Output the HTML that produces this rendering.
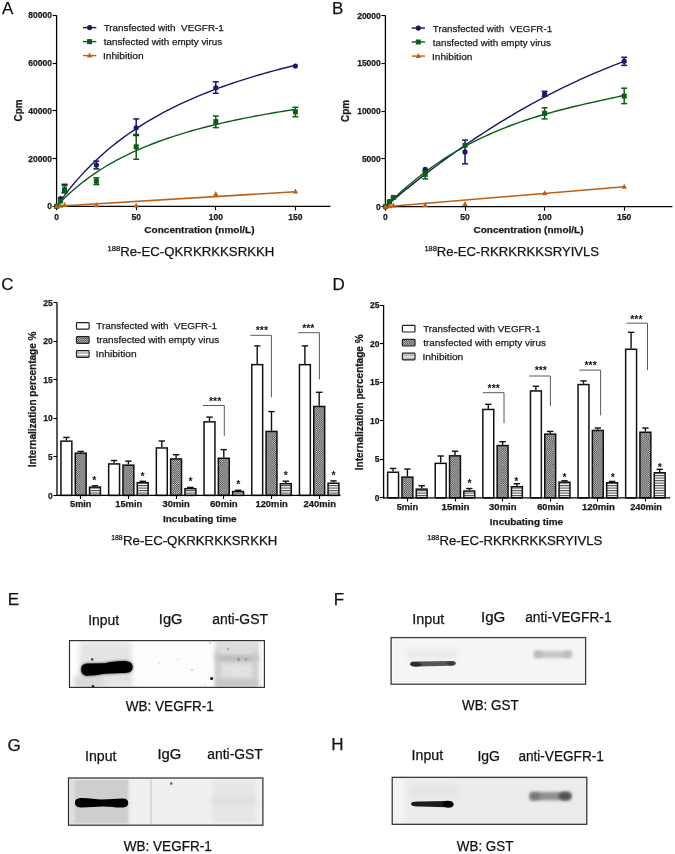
<!DOCTYPE html><html><head><meta charset="utf-8"><style>html,body{margin:0;padding:0;background:#fff;}svg{display:block;will-change:transform;}text{font-family:"Liberation Sans",sans-serif;white-space:pre;stroke:#1a1a1a;stroke-width:0.25px;}</style></head><body>
<svg width="675" height="854" viewBox="0 0 675 854">
<defs>
<pattern id="hatch" width="2.2" height="2.2" patternUnits="userSpaceOnUse"><rect width="2.2" height="2.2" fill="#dadada"/><rect width="1.1" height="1.1" fill="#343434"/><rect x="1.1" y="1.1" width="1.1" height="1.1" fill="#343434"/></pattern>
<pattern id="hatchL" width="2" height="2" patternUnits="userSpaceOnUse"><rect width="2" height="2" fill="#9a9a9a"/><rect width="1" height="1" fill="#3a3a3a"/><rect x="1" y="1" width="1" height="1" fill="#3a3a3a"/></pattern>
<pattern id="stripe" width="4" height="5" patternUnits="userSpaceOnUse"><rect width="4" height="5" fill="#f4f4f4"/><rect y="0" width="4" height="1.2" fill="#5a5a5a"/><rect y="2.5" width="4" height="1.2" fill="#707070"/></pattern>
<pattern id="stripeL" width="4" height="2" patternUnits="userSpaceOnUse"><rect width="4" height="2" fill="#fff"/><rect y="0" width="4" height="1" fill="#8a8a8a"/></pattern>
<clipPath id="cE"><rect x="69.5" y="640.6" width="194.9" height="46.8"/></clipPath>
<clipPath id="cF"><rect x="391.1" y="637.6" width="194.5" height="46.6"/></clipPath>
<clipPath id="cG"><rect x="68.5" y="778" width="194.4" height="47.2"/></clipPath>
<clipPath id="cH"><rect x="392.2" y="777.3" width="194.6" height="47"/></clipPath>
<filter id="b07" x="-50%" y="-50%" width="200%" height="200%"><feGaussianBlur stdDeviation="0.75"/></filter>
<filter id="b1" x="-50%" y="-50%" width="200%" height="200%"><feGaussianBlur stdDeviation="1"/></filter>
<filter id="b15" x="-50%" y="-50%" width="200%" height="200%"><feGaussianBlur stdDeviation="1.5"/></filter>
<filter id="b18" x="-50%" y="-50%" width="200%" height="200%"><feGaussianBlur stdDeviation="1.8"/></filter>
<filter id="b2" x="-50%" y="-50%" width="200%" height="200%"><feGaussianBlur stdDeviation="2"/></filter>
<filter id="b3" x="-50%" y="-50%" width="200%" height="200%"><feGaussianBlur stdDeviation="3"/></filter>
<filter id="b05" x="-50%" y="-50%" width="200%" height="200%"><feGaussianBlur stdDeviation="0.6"/></filter>
</defs>
<rect width="675" height="854" fill="#fff"/>
<line x1="56.6" y1="15.3" x2="56.6" y2="206.9" stroke="#000" stroke-width="1.3"/>
<line x1="56" y1="206.3" x2="330.4" y2="206.3" stroke="#000" stroke-width="1.3"/>
<line x1="52.6" y1="206.5" x2="56.6" y2="206.5" stroke="#000" stroke-width="1.1"/>
<text x="52" y="209.4" font-size="8.5" font-weight="bold" text-anchor="end" fill="#1a1a1a">0</text>
<line x1="52.6" y1="158.5" x2="56.6" y2="158.5" stroke="#000" stroke-width="1.1"/>
<text x="52" y="161.65" font-size="8.5" font-weight="bold" text-anchor="end" fill="#1a1a1a">20000</text>
<line x1="52.6" y1="110.5" x2="56.6" y2="110.5" stroke="#000" stroke-width="1.1"/>
<text x="52" y="113.9" font-size="8.5" font-weight="bold" text-anchor="end" fill="#1a1a1a">40000</text>
<line x1="52.6" y1="63.5" x2="56.6" y2="63.5" stroke="#000" stroke-width="1.1"/>
<text x="52" y="66.15" font-size="8.5" font-weight="bold" text-anchor="end" fill="#1a1a1a">60000</text>
<line x1="52.6" y1="15.5" x2="56.6" y2="15.5" stroke="#000" stroke-width="1.1"/>
<text x="52" y="18.4" font-size="8.5" font-weight="bold" text-anchor="end" fill="#1a1a1a">80000</text>
<line x1="56.5" y1="206.3" x2="56.5" y2="210.3" stroke="#000" stroke-width="1.1"/>
<text x="56.6" y="219.5" font-size="8.5" font-weight="bold" text-anchor="middle" fill="#1a1a1a">0</text>
<line x1="136.5" y1="206.3" x2="136.5" y2="210.3" stroke="#000" stroke-width="1.1"/>
<text x="136.2" y="219.5" font-size="8.5" font-weight="bold" text-anchor="middle" fill="#1a1a1a">50</text>
<line x1="215.5" y1="206.3" x2="215.5" y2="210.3" stroke="#000" stroke-width="1.1"/>
<text x="215.8" y="219.5" font-size="8.5" font-weight="bold" text-anchor="middle" fill="#1a1a1a">100</text>
<line x1="295.5" y1="206.3" x2="295.5" y2="210.3" stroke="#000" stroke-width="1.1"/>
<text x="295.4" y="219.5" font-size="8.5" font-weight="bold" text-anchor="middle" fill="#1a1a1a">150</text>
<text x="2.12" y="14.3" font-size="17" fill="#111">A</text>
<text x="0" y="0" font-size="10" font-weight="bold" fill="#1a1a1a" textLength="21.92" lengthAdjust="spacingAndGlyphs" transform="translate(21.6,121.4) rotate(-90)">Cpm</text>
<text x="144.39" y="233" font-size="9.9" font-weight="bold" fill="#1a1a1a" textLength="110.11" lengthAdjust="spacingAndGlyphs">Concentration (nmol/L)</text>
<text x="107.52" y="251" font-size="7.1" fill="#111" textLength="12.71" lengthAdjust="spacingAndGlyphs">188</text>
<text x="120.22" y="255.6" font-size="13" fill="#111" textLength="154.16" lengthAdjust="spacingAndGlyphs">Re-EC-QKRKRKKSRKKH</text>
<path d="M56.6,206.3 L60.58,200.67 L64.56,195.31 L68.54,190.18 L72.52,185.28 L76.5,180.59 L80.48,176.1 L84.46,171.8 L88.44,167.67 L92.42,163.71 L96.4,159.9 L100.38,156.23 L104.36,152.71 L108.34,149.31 L112.32,146.04 L116.3,142.88 L120.28,139.83 L124.26,136.89 L128.24,134.04 L132.22,131.3 L136.2,128.64 L140.18,126.06 L144.16,123.57 L148.14,121.15 L152.12,118.81 L156.1,116.54 L160.08,114.34 L164.06,112.2 L168.04,110.12 L172.02,108.1 L176,106.14 L179.98,104.24 L183.96,102.38 L187.94,100.58 L191.92,98.82 L195.9,97.11 L199.88,95.44 L203.86,93.82 L207.84,92.23 L211.82,90.69 L215.8,89.18 L219.78,87.71 L223.76,86.28 L227.74,84.88 L231.72,83.51 L235.7,82.18 L239.68,80.87 L243.66,79.6 L247.64,78.35 L251.62,77.13 L255.6,75.94 L259.58,74.77 L263.56,73.63 L267.54,72.51 L271.52,71.42 L275.5,70.35 L279.48,69.3 L283.46,68.27 L287.44,67.26 L291.42,66.28 L295.4,65.31" fill="none" stroke="#1e1762" stroke-width="1.4"/>
<path d="M56.6,206.3 L60.58,202.07 L64.56,198.06 L68.54,194.26 L72.52,190.65 L76.5,187.22 L80.48,183.96 L84.46,180.85 L88.44,177.89 L92.42,175.05 L96.4,172.35 L100.38,169.76 L104.36,167.28 L108.34,164.9 L112.32,162.62 L116.3,160.43 L120.28,158.32 L124.26,156.29 L128.24,154.34 L132.22,152.47 L136.2,150.66 L140.18,148.91 L144.16,147.22 L148.14,145.6 L152.12,144.02 L156.1,142.5 L160.08,141.03 L164.06,139.61 L168.04,138.23 L172.02,136.89 L176,135.6 L179.98,134.34 L183.96,133.12 L187.94,131.94 L191.92,130.79 L195.9,129.67 L199.88,128.59 L203.86,127.53 L207.84,126.51 L211.82,125.51 L215.8,124.54 L219.78,123.59 L223.76,122.67 L227.74,121.77 L231.72,120.89 L235.7,120.04 L239.68,119.2 L243.66,118.39 L247.64,117.6 L251.62,116.82 L255.6,116.06 L259.58,115.32 L263.56,114.6 L267.54,113.9 L271.52,113.21 L275.5,112.53 L279.48,111.87 L283.46,111.23 L287.44,110.59 L291.42,109.97 L295.4,109.37" fill="none" stroke="#0e5c17" stroke-width="1.4"/>
<path d="M56.6,206.3 L295.4,191.78" fill="none" stroke="#bb6016" stroke-width="1.6"/>
<circle cx="56.6" cy="206.3" r="2.6" fill="#1e1762"/>
<circle cx="60.58" cy="198.5" r="2.6" fill="#1e1762"/>
<line x1="64.56" y1="184.3" x2="64.56" y2="192.5" stroke="#1e1762" stroke-width="1.5"/>
<line x1="61.56" y1="184.3" x2="67.56" y2="184.3" stroke="#1e1762" stroke-width="1.5"/>
<line x1="61.56" y1="192.5" x2="67.56" y2="192.5" stroke="#1e1762" stroke-width="1.5"/>
<circle cx="64.56" cy="190.5" r="2.6" fill="#1e1762"/>
<line x1="96.4" y1="161.1" x2="96.4" y2="168.9" stroke="#1e1762" stroke-width="1.5"/>
<line x1="93.4" y1="161.1" x2="99.4" y2="161.1" stroke="#1e1762" stroke-width="1.5"/>
<line x1="93.4" y1="168.9" x2="99.4" y2="168.9" stroke="#1e1762" stroke-width="1.5"/>
<circle cx="96.4" cy="165.1" r="2.6" fill="#1e1762"/>
<line x1="136.2" y1="118.9" x2="136.2" y2="135.5" stroke="#1e1762" stroke-width="1.5"/>
<line x1="133.2" y1="118.9" x2="139.2" y2="118.9" stroke="#1e1762" stroke-width="1.5"/>
<line x1="133.2" y1="135.5" x2="139.2" y2="135.5" stroke="#1e1762" stroke-width="1.5"/>
<circle cx="136.2" cy="127.8" r="2.6" fill="#1e1762"/>
<line x1="215.8" y1="81.8" x2="215.8" y2="93.3" stroke="#1e1762" stroke-width="1.5"/>
<line x1="212.8" y1="81.8" x2="218.8" y2="81.8" stroke="#1e1762" stroke-width="1.5"/>
<line x1="212.8" y1="93.3" x2="218.8" y2="93.3" stroke="#1e1762" stroke-width="1.5"/>
<circle cx="215.8" cy="87.8" r="2.6" fill="#1e1762"/>
<circle cx="295.4" cy="66" r="2.6" fill="#1e1762"/>
<rect x="54.1" y="203.8" width="5" height="5" fill="#0e5c17"/>
<rect x="58.08" y="198.5" width="5" height="5" fill="#0e5c17"/>
<line x1="64.56" y1="185.6" x2="64.56" y2="192.8" stroke="#0e5c17" stroke-width="1.5"/>
<line x1="61.56" y1="185.6" x2="67.56" y2="185.6" stroke="#0e5c17" stroke-width="1.5"/>
<line x1="61.56" y1="192.8" x2="67.56" y2="192.8" stroke="#0e5c17" stroke-width="1.5"/>
<rect x="62.06" y="187.2" width="5" height="5" fill="#0e5c17"/>
<line x1="96.4" y1="177.8" x2="96.4" y2="184.6" stroke="#0e5c17" stroke-width="1.5"/>
<line x1="93.4" y1="177.8" x2="99.4" y2="177.8" stroke="#0e5c17" stroke-width="1.5"/>
<line x1="93.4" y1="184.6" x2="99.4" y2="184.6" stroke="#0e5c17" stroke-width="1.5"/>
<rect x="93.9" y="178.7" width="5" height="5" fill="#0e5c17"/>
<line x1="136.2" y1="134.4" x2="136.2" y2="159.3" stroke="#0e5c17" stroke-width="1.5"/>
<line x1="133.2" y1="134.4" x2="139.2" y2="134.4" stroke="#0e5c17" stroke-width="1.5"/>
<line x1="133.2" y1="159.3" x2="139.2" y2="159.3" stroke="#0e5c17" stroke-width="1.5"/>
<rect x="133.7" y="144.3" width="5" height="5" fill="#0e5c17"/>
<line x1="215.8" y1="116" x2="215.8" y2="127.6" stroke="#0e5c17" stroke-width="1.5"/>
<line x1="212.8" y1="116" x2="218.8" y2="116" stroke="#0e5c17" stroke-width="1.5"/>
<line x1="212.8" y1="127.6" x2="218.8" y2="127.6" stroke="#0e5c17" stroke-width="1.5"/>
<rect x="213.3" y="119.1" width="5" height="5" fill="#0e5c17"/>
<line x1="295.4" y1="107.3" x2="295.4" y2="116.7" stroke="#0e5c17" stroke-width="1.5"/>
<line x1="292.4" y1="107.3" x2="298.4" y2="107.3" stroke="#0e5c17" stroke-width="1.5"/>
<line x1="292.4" y1="116.7" x2="298.4" y2="116.7" stroke="#0e5c17" stroke-width="1.5"/>
<rect x="292.9" y="109.3" width="5" height="5" fill="#0e5c17"/>
<path d="M56.6,203.3 L59.3,208.3 L53.9,208.3 Z" fill="#bb6016"/>
<path d="M60.58,202.8 L63.28,207.8 L57.88,207.8 Z" fill="#bb6016"/>
<path d="M64.56,202 L67.26,207 L61.86,207 Z" fill="#bb6016"/>
<path d="M96.4,202.2 L99.1,207.2 L93.7,207.2 Z" fill="#bb6016"/>
<path d="M136.2,202.5 L138.9,207.5 L133.5,207.5 Z" fill="#bb6016"/>
<path d="M215.8,191 L218.5,196 L213.1,196 Z" fill="#bb6016"/>
<path d="M295.4,188.6 L298.1,193.6 L292.7,193.6 Z" fill="#bb6016"/>
<line x1="83" y1="27.6" x2="96.3" y2="27.6" stroke="#1e1762" stroke-width="1.4"/>
<circle cx="89.6" cy="27.6" r="2.6" fill="#1e1762"/>
<text x="103.68" y="31.1" font-size="9.9" fill="#1a1a1a" textLength="120.1" lengthAdjust="spacingAndGlyphs">Transfected with&#160; VEGFR-1</text>
<line x1="83" y1="41.6" x2="96.3" y2="41.6" stroke="#0e5c17" stroke-width="1.4"/>
<rect x="87.1" y="39.1" width="5" height="5" fill="#0e5c17"/>
<text x="103.75" y="45.1" font-size="9.9" fill="#1a1a1a" textLength="118.4" lengthAdjust="spacingAndGlyphs">tansfected with empty virus</text>
<line x1="83" y1="55.6" x2="96.3" y2="55.6" stroke="#bb6016" stroke-width="1.4"/>
<path d="M89.6,52.6 L92.3,57.6 L86.9,57.6 Z" fill="#bb6016"/>
<text x="102.96" y="59.1" font-size="9.9" fill="#1a1a1a" textLength="40.7" lengthAdjust="spacingAndGlyphs">Inhibition</text>
<line x1="385.4" y1="15.5" x2="385.4" y2="207.3" stroke="#000" stroke-width="1.3"/>
<line x1="384.8" y1="206.7" x2="672.4" y2="206.7" stroke="#000" stroke-width="1.3"/>
<line x1="381.4" y1="206.5" x2="385.4" y2="206.5" stroke="#000" stroke-width="1.1"/>
<text x="380.8" y="209.8" font-size="8.5" font-weight="bold" text-anchor="end" fill="#1a1a1a">0</text>
<line x1="381.4" y1="158.5" x2="385.4" y2="158.5" stroke="#000" stroke-width="1.1"/>
<text x="380.8" y="162" font-size="8.5" font-weight="bold" text-anchor="end" fill="#1a1a1a">5000</text>
<line x1="381.4" y1="111.5" x2="385.4" y2="111.5" stroke="#000" stroke-width="1.1"/>
<text x="380.8" y="114.2" font-size="8.5" font-weight="bold" text-anchor="end" fill="#1a1a1a">10000</text>
<line x1="381.4" y1="63.5" x2="385.4" y2="63.5" stroke="#000" stroke-width="1.1"/>
<text x="380.8" y="66.4" font-size="8.5" font-weight="bold" text-anchor="end" fill="#1a1a1a">15000</text>
<line x1="381.4" y1="15.5" x2="385.4" y2="15.5" stroke="#000" stroke-width="1.1"/>
<text x="380.8" y="18.6" font-size="8.5" font-weight="bold" text-anchor="end" fill="#1a1a1a">20000</text>
<line x1="385.5" y1="206.7" x2="385.5" y2="210.7" stroke="#000" stroke-width="1.1"/>
<text x="385.4" y="219.9" font-size="8.5" font-weight="bold" text-anchor="middle" fill="#1a1a1a">0</text>
<line x1="465.5" y1="206.7" x2="465.5" y2="210.7" stroke="#000" stroke-width="1.1"/>
<text x="465" y="219.9" font-size="8.5" font-weight="bold" text-anchor="middle" fill="#1a1a1a">50</text>
<line x1="544.5" y1="206.7" x2="544.5" y2="210.7" stroke="#000" stroke-width="1.1"/>
<text x="544.6" y="219.9" font-size="8.5" font-weight="bold" text-anchor="middle" fill="#1a1a1a">100</text>
<line x1="624.5" y1="206.7" x2="624.5" y2="210.7" stroke="#000" stroke-width="1.1"/>
<text x="624.2" y="219.9" font-size="8.5" font-weight="bold" text-anchor="middle" fill="#1a1a1a">150</text>
<text x="331.96" y="14.3" font-size="17" fill="#111">B</text>
<text x="0" y="0" font-size="10" font-weight="bold" fill="#1a1a1a" textLength="21.92" lengthAdjust="spacingAndGlyphs" transform="translate(349.2,121.9) rotate(-90)">Cpm</text>
<text x="473.49" y="233.3" font-size="9.9" font-weight="bold" fill="#1a1a1a" textLength="110.01" lengthAdjust="spacingAndGlyphs">Concentration (nmol/L)</text>
<text x="424.43" y="250.9" font-size="7.1" fill="#111" textLength="12.5" lengthAdjust="spacingAndGlyphs">188</text>
<text x="436.73" y="255.5" font-size="13" fill="#111" textLength="162.38" lengthAdjust="spacingAndGlyphs">Re-EC-RKRKRKKSRYIVLS</text>
<path d="M385.4,206.7 L389.38,203.3 L393.36,199.94 L397.34,196.62 L401.32,193.32 L405.3,190.07 L409.28,186.84 L413.26,183.65 L417.24,180.5 L421.22,177.38 L425.2,174.29 L429.18,171.24 L433.16,168.22 L437.14,165.23 L441.12,162.28 L445.1,159.36 L449.08,156.47 L453.06,153.62 L457.04,150.8 L461.02,148.01 L465,145.26 L468.98,142.54 L472.96,139.86 L476.94,137.2 L480.92,134.58 L484.9,131.99 L488.88,129.44 L492.86,126.91 L496.84,124.42 L500.82,121.96 L504.8,119.54 L508.78,117.14 L512.76,114.78 L516.74,112.45 L520.72,110.16 L524.7,107.89 L528.68,105.66 L532.66,103.45 L536.64,101.28 L540.62,99.15 L544.6,97.04 L548.58,94.96 L552.56,92.92 L556.54,90.91 L560.52,88.93 L564.5,86.97 L568.48,85.06 L572.46,83.17 L576.44,81.31 L580.42,79.48 L584.4,77.69 L588.38,75.92 L592.36,74.19 L596.34,72.48 L600.32,70.81 L604.3,69.17 L608.28,67.55 L612.26,65.97 L616.24,64.42 L620.22,62.9 L624.2,61.4" fill="none" stroke="#1e1762" stroke-width="1.4"/>
<path d="M385.4,206.7 L389.38,202.78 L393.36,198.96 L397.34,195.25 L401.32,191.64 L405.3,188.14 L409.28,184.73 L413.26,181.42 L417.24,178.2 L421.22,175.08 L425.2,172.05 L429.18,169.11 L433.16,166.26 L437.14,163.49 L441.12,160.81 L445.1,158.21 L449.08,155.69 L453.06,153.25 L457.04,150.89 L461.02,148.6 L465,146.38 L468.98,144.23 L472.96,142.15 L476.94,140.14 L480.92,138.2 L484.9,136.31 L488.88,134.49 L492.86,132.73 L496.84,131.02 L500.82,129.37 L504.8,127.78 L508.78,126.23 L512.76,124.74 L516.74,123.29 L520.72,121.89 L524.7,120.53 L528.68,119.22 L532.66,117.94 L536.64,116.71 L540.62,115.51 L544.6,114.34 L548.58,113.21 L552.56,112.11 L556.54,111.03 L560.52,109.99 L564.5,108.96 L568.48,107.97 L572.46,106.99 L576.44,106.03 L580.42,105.09 L584.4,104.16 L588.38,103.25 L592.36,102.35 L596.34,101.46 L600.32,100.58 L604.3,99.7 L608.28,98.83 L612.26,97.96 L616.24,97.09 L620.22,96.22 L624.2,95.34" fill="none" stroke="#0e5c17" stroke-width="1.4"/>
<path d="M385.4,206.7 L624.2,186.72" fill="none" stroke="#bb6016" stroke-width="1.6"/>
<circle cx="385.4" cy="206.7" r="2.6" fill="#1e1762"/>
<circle cx="389.38" cy="201.6" r="2.6" fill="#1e1762"/>
<circle cx="393.36" cy="197.5" r="2.6" fill="#1e1762"/>
<circle cx="425.2" cy="169.3" r="2.6" fill="#1e1762"/>
<line x1="465" y1="140.1" x2="465" y2="163.8" stroke="#1e1762" stroke-width="1.5"/>
<line x1="462" y1="140.1" x2="468" y2="140.1" stroke="#1e1762" stroke-width="1.5"/>
<line x1="462" y1="163.8" x2="468" y2="163.8" stroke="#1e1762" stroke-width="1.5"/>
<circle cx="465" cy="151.9" r="2.6" fill="#1e1762"/>
<line x1="544.6" y1="91.3" x2="544.6" y2="96.2" stroke="#1e1762" stroke-width="1.5"/>
<line x1="541.6" y1="91.3" x2="547.6" y2="91.3" stroke="#1e1762" stroke-width="1.5"/>
<line x1="541.6" y1="96.2" x2="547.6" y2="96.2" stroke="#1e1762" stroke-width="1.5"/>
<circle cx="544.6" cy="93.8" r="2.6" fill="#1e1762"/>
<line x1="624.2" y1="57.3" x2="624.2" y2="65.4" stroke="#1e1762" stroke-width="1.5"/>
<line x1="621.2" y1="57.3" x2="627.2" y2="57.3" stroke="#1e1762" stroke-width="1.5"/>
<line x1="621.2" y1="65.4" x2="627.2" y2="65.4" stroke="#1e1762" stroke-width="1.5"/>
<circle cx="624.2" cy="61.2" r="2.6" fill="#1e1762"/>
<rect x="382.9" y="204.2" width="5" height="5" fill="#0e5c17"/>
<rect x="386.88" y="199.5" width="5" height="5" fill="#0e5c17"/>
<rect x="390.86" y="194.9" width="5" height="5" fill="#0e5c17"/>
<line x1="425.2" y1="171.2" x2="425.2" y2="178.9" stroke="#0e5c17" stroke-width="1.5"/>
<line x1="422.2" y1="171.2" x2="428.2" y2="171.2" stroke="#0e5c17" stroke-width="1.5"/>
<line x1="422.2" y1="178.9" x2="428.2" y2="178.9" stroke="#0e5c17" stroke-width="1.5"/>
<rect x="422.7" y="171.9" width="5" height="5" fill="#0e5c17"/>
<rect x="462.5" y="142.8" width="5" height="5" fill="#0e5c17"/>
<line x1="544.6" y1="107.8" x2="544.6" y2="118.9" stroke="#0e5c17" stroke-width="1.5"/>
<line x1="541.6" y1="107.8" x2="547.6" y2="107.8" stroke="#0e5c17" stroke-width="1.5"/>
<line x1="541.6" y1="118.9" x2="547.6" y2="118.9" stroke="#0e5c17" stroke-width="1.5"/>
<rect x="542.1" y="110.8" width="5" height="5" fill="#0e5c17"/>
<line x1="624.2" y1="88.2" x2="624.2" y2="103.6" stroke="#0e5c17" stroke-width="1.5"/>
<line x1="621.2" y1="88.2" x2="627.2" y2="88.2" stroke="#0e5c17" stroke-width="1.5"/>
<line x1="621.2" y1="103.6" x2="627.2" y2="103.6" stroke="#0e5c17" stroke-width="1.5"/>
<rect x="621.7" y="93.6" width="5" height="5" fill="#0e5c17"/>
<path d="M385.4,203.7 L388.1,208.7 L382.7,208.7 Z" fill="#bb6016"/>
<path d="M389.38,203.2 L392.08,208.2 L386.68,208.2 Z" fill="#bb6016"/>
<path d="M393.36,202.5 L396.06,207.5 L390.66,207.5 Z" fill="#bb6016"/>
<path d="M425.2,202 L427.9,207 L422.5,207 Z" fill="#bb6016"/>
<path d="M465,201.1 L467.7,206.1 L462.3,206.1 Z" fill="#bb6016"/>
<path d="M544.6,190.2 L547.3,195.2 L541.9,195.2 Z" fill="#bb6016"/>
<path d="M624.2,183.7 L626.9,188.7 L621.5,188.7 Z" fill="#bb6016"/>
<line x1="411.7" y1="28.1" x2="425" y2="28.1" stroke="#1e1762" stroke-width="1.4"/>
<circle cx="418.3" cy="28.1" r="2.6" fill="#1e1762"/>
<text x="432.78" y="31.6" font-size="9.9" fill="#1a1a1a" textLength="119.4" lengthAdjust="spacingAndGlyphs">Transfected with&#160; VEGFR-1</text>
<line x1="411.7" y1="42" x2="425" y2="42" stroke="#0e5c17" stroke-width="1.4"/>
<rect x="415.8" y="39.5" width="5" height="5" fill="#0e5c17"/>
<text x="432.85" y="45.5" font-size="9.9" fill="#1a1a1a" textLength="118.1" lengthAdjust="spacingAndGlyphs">tansfected with empty virus</text>
<line x1="411.7" y1="56.1" x2="425" y2="56.1" stroke="#bb6016" stroke-width="1.4"/>
<path d="M418.3,53.1 L421,58.1 L415.6,58.1 Z" fill="#bb6016"/>
<text x="432.07" y="59.6" font-size="9.9" fill="#1a1a1a" textLength="40.28" lengthAdjust="spacingAndGlyphs">Inhibition</text>
<rect x="60.95" y="441.15" width="10.9" height="54.25" fill="#fff" stroke="#111" stroke-width="1.5"/>
<line x1="66.4" y1="437.4" x2="66.4" y2="440.4" stroke="#111" stroke-width="1.4"/>
<line x1="63.2" y1="437.4" x2="69.6" y2="437.4" stroke="#111" stroke-width="1.4"/>
<rect x="75.25" y="453.15" width="10.9" height="42.25" fill="url(#hatch)" stroke="#111" stroke-width="1.5"/>
<line x1="80.7" y1="451.4" x2="80.7" y2="452.4" stroke="#111" stroke-width="1.4"/>
<line x1="77.5" y1="451.4" x2="83.9" y2="451.4" stroke="#111" stroke-width="1.4"/>
<rect x="89.55" y="487.15" width="10.9" height="8.25" fill="url(#stripe)" stroke="#111" stroke-width="1.5"/>
<line x1="95" y1="485.8" x2="95" y2="486.4" stroke="#111" stroke-width="1.4"/>
<line x1="91.8" y1="485.8" x2="98.2" y2="485.8" stroke="#111" stroke-width="1.4"/>
<line x1="80.5" y1="495.4" x2="80.5" y2="499" stroke="#000" stroke-width="1.1"/>
<text x="70.12" y="507.3" font-size="9" font-weight="bold" fill="#1a1a1a" textLength="21.35" lengthAdjust="spacingAndGlyphs">5min</text>
<rect x="108.65" y="463.95" width="10.9" height="31.45" fill="#fff" stroke="#111" stroke-width="1.5"/>
<line x1="114.1" y1="460.5" x2="114.1" y2="463.2" stroke="#111" stroke-width="1.4"/>
<line x1="110.9" y1="460.5" x2="117.3" y2="460.5" stroke="#111" stroke-width="1.4"/>
<rect x="122.95" y="465.15" width="10.9" height="30.25" fill="url(#hatch)" stroke="#111" stroke-width="1.5"/>
<line x1="128.4" y1="461.2" x2="128.4" y2="464.4" stroke="#111" stroke-width="1.4"/>
<line x1="125.2" y1="461.2" x2="131.6" y2="461.2" stroke="#111" stroke-width="1.4"/>
<rect x="137.25" y="482.65" width="10.9" height="12.75" fill="url(#stripe)" stroke="#111" stroke-width="1.5"/>
<line x1="142.7" y1="481.3" x2="142.7" y2="481.9" stroke="#111" stroke-width="1.4"/>
<line x1="139.5" y1="481.3" x2="145.9" y2="481.3" stroke="#111" stroke-width="1.4"/>
<line x1="128.5" y1="495.4" x2="128.5" y2="499" stroke="#000" stroke-width="1.1"/>
<text x="115.21" y="507.3" font-size="9" font-weight="bold" fill="#1a1a1a" textLength="26.97" lengthAdjust="spacingAndGlyphs">15min</text>
<rect x="156.35" y="447.95" width="10.9" height="47.45" fill="#fff" stroke="#111" stroke-width="1.5"/>
<line x1="161.8" y1="441" x2="161.8" y2="447.2" stroke="#111" stroke-width="1.4"/>
<line x1="158.6" y1="441" x2="165" y2="441" stroke="#111" stroke-width="1.4"/>
<rect x="170.65" y="458.95" width="10.9" height="36.45" fill="url(#hatch)" stroke="#111" stroke-width="1.5"/>
<line x1="176.1" y1="454.7" x2="176.1" y2="458.2" stroke="#111" stroke-width="1.4"/>
<line x1="172.9" y1="454.7" x2="179.3" y2="454.7" stroke="#111" stroke-width="1.4"/>
<rect x="184.95" y="488.65" width="10.9" height="6.75" fill="url(#stripe)" stroke="#111" stroke-width="1.5"/>
<line x1="190.4" y1="487.4" x2="190.4" y2="487.9" stroke="#111" stroke-width="1.4"/>
<line x1="187.2" y1="487.4" x2="193.6" y2="487.4" stroke="#111" stroke-width="1.4"/>
<line x1="176.5" y1="495.4" x2="176.5" y2="499" stroke="#000" stroke-width="1.1"/>
<text x="162.58" y="507.3" font-size="9" font-weight="bold" fill="#1a1a1a" textLength="27.1" lengthAdjust="spacingAndGlyphs">30min</text>
<rect x="204.05" y="421.85" width="10.9" height="73.55" fill="#fff" stroke="#111" stroke-width="1.5"/>
<line x1="209.5" y1="417.1" x2="209.5" y2="421.1" stroke="#111" stroke-width="1.4"/>
<line x1="206.3" y1="417.1" x2="212.7" y2="417.1" stroke="#111" stroke-width="1.4"/>
<rect x="218.35" y="458.25" width="10.9" height="37.15" fill="url(#hatch)" stroke="#111" stroke-width="1.5"/>
<line x1="223.8" y1="449.6" x2="223.8" y2="457.5" stroke="#111" stroke-width="1.4"/>
<line x1="220.6" y1="449.6" x2="227" y2="449.6" stroke="#111" stroke-width="1.4"/>
<rect x="232.65" y="491.55" width="10.9" height="3.85" fill="url(#stripe)" stroke="#111" stroke-width="1.5"/>
<line x1="238.1" y1="490.3" x2="238.1" y2="490.8" stroke="#111" stroke-width="1.4"/>
<line x1="234.9" y1="490.3" x2="241.3" y2="490.3" stroke="#111" stroke-width="1.4"/>
<line x1="223.5" y1="495.4" x2="223.5" y2="499" stroke="#000" stroke-width="1.1"/>
<text x="210.05" y="507.3" font-size="9" font-weight="bold" fill="#1a1a1a" textLength="27.64" lengthAdjust="spacingAndGlyphs">60min</text>
<rect x="251.75" y="364.65" width="10.9" height="130.75" fill="#fff" stroke="#111" stroke-width="1.5"/>
<line x1="257.2" y1="345.9" x2="257.2" y2="363.9" stroke="#111" stroke-width="1.4"/>
<line x1="254" y1="345.9" x2="260.4" y2="345.9" stroke="#111" stroke-width="1.4"/>
<rect x="266.05" y="431.45" width="10.9" height="63.95" fill="url(#hatch)" stroke="#111" stroke-width="1.5"/>
<line x1="271.5" y1="411.6" x2="271.5" y2="430.7" stroke="#111" stroke-width="1.4"/>
<line x1="268.3" y1="411.6" x2="274.7" y2="411.6" stroke="#111" stroke-width="1.4"/>
<rect x="280.35" y="483.75" width="10.9" height="11.65" fill="url(#stripe)" stroke="#111" stroke-width="1.5"/>
<line x1="285.8" y1="481.2" x2="285.8" y2="483" stroke="#111" stroke-width="1.4"/>
<line x1="282.6" y1="481.2" x2="289" y2="481.2" stroke="#111" stroke-width="1.4"/>
<line x1="271.5" y1="495.4" x2="271.5" y2="499" stroke="#000" stroke-width="1.1"/>
<text x="255.41" y="507.3" font-size="9" font-weight="bold" fill="#1a1a1a" textLength="32.37" lengthAdjust="spacingAndGlyphs">120min</text>
<rect x="299.45" y="364.65" width="10.9" height="130.75" fill="#fff" stroke="#111" stroke-width="1.5"/>
<line x1="304.9" y1="345.9" x2="304.9" y2="363.9" stroke="#111" stroke-width="1.4"/>
<line x1="301.7" y1="345.9" x2="308.1" y2="345.9" stroke="#111" stroke-width="1.4"/>
<rect x="313.75" y="406.45" width="10.9" height="88.95" fill="url(#hatch)" stroke="#111" stroke-width="1.5"/>
<line x1="319.2" y1="392.3" x2="319.2" y2="405.7" stroke="#111" stroke-width="1.4"/>
<line x1="316" y1="392.3" x2="322.4" y2="392.3" stroke="#111" stroke-width="1.4"/>
<rect x="328.05" y="483.25" width="10.9" height="12.15" fill="url(#stripe)" stroke="#111" stroke-width="1.5"/>
<line x1="333.5" y1="480.9" x2="333.5" y2="482.5" stroke="#111" stroke-width="1.4"/>
<line x1="330.3" y1="480.9" x2="336.7" y2="480.9" stroke="#111" stroke-width="1.4"/>
<line x1="319.5" y1="495.4" x2="319.5" y2="499" stroke="#000" stroke-width="1.1"/>
<text x="303.57" y="507.3" font-size="9" font-weight="bold" fill="#1a1a1a" textLength="32.41" lengthAdjust="spacingAndGlyphs">240min</text>
<line x1="57" y1="302.5" x2="57" y2="496" stroke="#000" stroke-width="1.3"/>
<line x1="56.4" y1="495.4" x2="340.5" y2="495.4" stroke="#000" stroke-width="1.3"/>
<line x1="53.4" y1="495.5" x2="57" y2="495.5" stroke="#000" stroke-width="1.1"/>
<text x="52.8" y="498.5" font-size="8.5" font-weight="bold" text-anchor="end" fill="#1a1a1a">0</text>
<line x1="53.4" y1="456.5" x2="57" y2="456.5" stroke="#000" stroke-width="1.1"/>
<text x="52.8" y="459.92" font-size="8.5" font-weight="bold" text-anchor="end" fill="#1a1a1a">5</text>
<line x1="53.4" y1="418.5" x2="57" y2="418.5" stroke="#000" stroke-width="1.1"/>
<text x="52.8" y="421.34" font-size="8.5" font-weight="bold" text-anchor="end" fill="#1a1a1a">10</text>
<line x1="53.4" y1="379.5" x2="57" y2="379.5" stroke="#000" stroke-width="1.1"/>
<text x="52.8" y="382.76" font-size="8.5" font-weight="bold" text-anchor="end" fill="#1a1a1a">15</text>
<line x1="53.4" y1="341.5" x2="57" y2="341.5" stroke="#000" stroke-width="1.1"/>
<text x="52.8" y="344.18" font-size="8.5" font-weight="bold" text-anchor="end" fill="#1a1a1a">20</text>
<line x1="53.4" y1="302.5" x2="57" y2="302.5" stroke="#000" stroke-width="1.1"/>
<text x="52.8" y="305.6" font-size="8.5" font-weight="bold" text-anchor="end" fill="#1a1a1a">25</text>
<text x="1.29" y="289.8" font-size="17" fill="#111">C</text>
<text x="0" y="0" font-size="10" font-weight="bold" fill="#1a1a1a" textLength="135.83" lengthAdjust="spacingAndGlyphs" transform="translate(36,467.37) rotate(-90)">Internalization percentage %</text>
<text x="163.03" y="521.8" font-size="9.9" font-weight="bold" fill="#1a1a1a" textLength="73.61" lengthAdjust="spacingAndGlyphs">Incubating time</text>
<text x="111.18" y="540.4" font-size="7.1" fill="#111" textLength="11.42" lengthAdjust="spacingAndGlyphs">188</text>
<text x="123.01" y="545" font-size="13" fill="#111" textLength="154.36" lengthAdjust="spacingAndGlyphs">Re-EC-QKRKRKKSRKKH</text>
<rect x="76.5" y="322.6" width="12.6" height="6.6" rx="0.8" fill="#fff" stroke="#222" stroke-width="1.2"/>
<text x="96.38" y="329.3" font-size="9.9" fill="#1a1a1a" textLength="120.6" lengthAdjust="spacingAndGlyphs">Transfected with&#160; VEGFR-1</text>
<rect x="76.5" y="336.7" width="12.6" height="6.6" rx="0.8" fill="url(#hatch)" stroke="#222" stroke-width="1.2"/>
<text x="96.45" y="343.4" font-size="9.9" fill="#1a1a1a" textLength="122.71" lengthAdjust="spacingAndGlyphs">transfected with empty virus</text>
<rect x="76.5" y="350.7" width="12.6" height="6.6" rx="0.8" fill="#b4b4b4" stroke="#222" stroke-width="1.2"/>
<rect x="77.2" y="353.9" width="11.2" height="1.1" fill="#fafafa"/>
<rect x="77.2" y="351.4" width="11.2" height="0.9" fill="#d0d0d0"/>
<text x="95.65" y="357.4" font-size="9.9" fill="#1a1a1a" textLength="41.01" lengthAdjust="spacingAndGlyphs">Inhibition</text>
<path d="M203,405.5 L224.3,405.5 L224.3,435.9" fill="none" stroke="#5a5a5a" stroke-width="1"/>
<text x="215.1" y="404.6" font-size="10.5" font-weight="bold" text-anchor="middle" fill="#111" style="stroke-width:0">***</text>
<path d="M250.3,335.3 L271.4,335.3 L271.4,397.4" fill="none" stroke="#5a5a5a" stroke-width="1"/>
<text x="261.9" y="333.7" font-size="10.5" font-weight="bold" text-anchor="middle" fill="#111" style="stroke-width:0">***</text>
<path d="M298.2,332.7 L319.4,332.7 L319.4,379.4" fill="none" stroke="#5a5a5a" stroke-width="1"/>
<text x="308.3" y="332.3" font-size="10.5" font-weight="bold" text-anchor="middle" fill="#111" style="stroke-width:0">***</text>
<text x="94.2" y="484" font-size="10.5" font-weight="bold" text-anchor="middle" fill="#111" style="stroke-width:0">*</text>
<text x="142.6" y="479.9" font-size="10.5" font-weight="bold" text-anchor="middle" fill="#111" style="stroke-width:0">*</text>
<text x="190.5" y="484.9" font-size="10.5" font-weight="bold" text-anchor="middle" fill="#111" style="stroke-width:0">*</text>
<text x="238.2" y="488.1" font-size="10.5" font-weight="bold" text-anchor="middle" fill="#111" style="stroke-width:0">*</text>
<text x="285.9" y="478.5" font-size="10.5" font-weight="bold" text-anchor="middle" fill="#111" style="stroke-width:0">*</text>
<text x="333.6" y="478.9" font-size="10.5" font-weight="bold" text-anchor="middle" fill="#111" style="stroke-width:0">*</text>
<rect x="387.65" y="472.25" width="10.9" height="25.65" fill="#fff" stroke="#111" stroke-width="1.5"/>
<line x1="393.1" y1="468.4" x2="393.1" y2="471.5" stroke="#111" stroke-width="1.4"/>
<line x1="389.9" y1="468.4" x2="396.3" y2="468.4" stroke="#111" stroke-width="1.4"/>
<rect x="401.95" y="477.15" width="10.9" height="20.75" fill="url(#hatch)" stroke="#111" stroke-width="1.5"/>
<line x1="407.4" y1="469" x2="407.4" y2="476.4" stroke="#111" stroke-width="1.4"/>
<line x1="404.2" y1="469" x2="410.6" y2="469" stroke="#111" stroke-width="1.4"/>
<rect x="416.25" y="489.15" width="10.9" height="8.75" fill="url(#stripe)" stroke="#111" stroke-width="1.5"/>
<line x1="421.7" y1="485.7" x2="421.7" y2="488.4" stroke="#111" stroke-width="1.4"/>
<line x1="418.5" y1="485.7" x2="424.9" y2="485.7" stroke="#111" stroke-width="1.4"/>
<line x1="407.5" y1="497.9" x2="407.5" y2="501.5" stroke="#000" stroke-width="1.1"/>
<text x="396.72" y="510.4" font-size="9" font-weight="bold" fill="#1a1a1a" textLength="21.45" lengthAdjust="spacingAndGlyphs">5min</text>
<rect x="435.25" y="463.35" width="10.9" height="34.55" fill="#fff" stroke="#111" stroke-width="1.5"/>
<line x1="440.7" y1="456" x2="440.7" y2="462.6" stroke="#111" stroke-width="1.4"/>
<line x1="437.5" y1="456" x2="443.9" y2="456" stroke="#111" stroke-width="1.4"/>
<rect x="449.55" y="455.85" width="10.9" height="42.05" fill="url(#hatch)" stroke="#111" stroke-width="1.5"/>
<line x1="455" y1="451.2" x2="455" y2="455.1" stroke="#111" stroke-width="1.4"/>
<line x1="451.8" y1="451.2" x2="458.2" y2="451.2" stroke="#111" stroke-width="1.4"/>
<rect x="463.85" y="491.05" width="10.9" height="6.85" fill="url(#stripe)" stroke="#111" stroke-width="1.5"/>
<line x1="469.3" y1="488.5" x2="469.3" y2="490.3" stroke="#111" stroke-width="1.4"/>
<line x1="466.1" y1="488.5" x2="472.5" y2="488.5" stroke="#111" stroke-width="1.4"/>
<line x1="455.5" y1="497.9" x2="455.5" y2="501.5" stroke="#000" stroke-width="1.1"/>
<text x="441.59" y="510.4" font-size="9" font-weight="bold" fill="#1a1a1a" textLength="27.91" lengthAdjust="spacingAndGlyphs">15min</text>
<rect x="482.85" y="409.45" width="10.9" height="88.45" fill="#fff" stroke="#111" stroke-width="1.5"/>
<line x1="488.3" y1="404.3" x2="488.3" y2="408.7" stroke="#111" stroke-width="1.4"/>
<line x1="485.1" y1="404.3" x2="491.5" y2="404.3" stroke="#111" stroke-width="1.4"/>
<rect x="497.15" y="445.55" width="10.9" height="52.35" fill="url(#hatch)" stroke="#111" stroke-width="1.5"/>
<line x1="502.6" y1="441.7" x2="502.6" y2="444.8" stroke="#111" stroke-width="1.4"/>
<line x1="499.4" y1="441.7" x2="505.8" y2="441.7" stroke="#111" stroke-width="1.4"/>
<rect x="511.45" y="486.75" width="10.9" height="11.15" fill="url(#stripe)" stroke="#111" stroke-width="1.5"/>
<line x1="516.9" y1="483.7" x2="516.9" y2="486" stroke="#111" stroke-width="1.4"/>
<line x1="513.7" y1="483.7" x2="520.1" y2="483.7" stroke="#111" stroke-width="1.4"/>
<line x1="502.5" y1="497.9" x2="502.5" y2="501.5" stroke="#000" stroke-width="1.1"/>
<text x="489.08" y="510.4" font-size="9" font-weight="bold" fill="#1a1a1a" textLength="27.41" lengthAdjust="spacingAndGlyphs">30min</text>
<rect x="530.45" y="390.95" width="10.9" height="106.95" fill="#fff" stroke="#111" stroke-width="1.5"/>
<line x1="535.9" y1="386.3" x2="535.9" y2="390.2" stroke="#111" stroke-width="1.4"/>
<line x1="532.7" y1="386.3" x2="539.1" y2="386.3" stroke="#111" stroke-width="1.4"/>
<rect x="544.75" y="434.15" width="10.9" height="63.75" fill="url(#hatch)" stroke="#111" stroke-width="1.5"/>
<line x1="550.2" y1="431.4" x2="550.2" y2="433.4" stroke="#111" stroke-width="1.4"/>
<line x1="547" y1="431.4" x2="553.4" y2="431.4" stroke="#111" stroke-width="1.4"/>
<rect x="559.05" y="482.15" width="10.9" height="15.75" fill="url(#stripe)" stroke="#111" stroke-width="1.5"/>
<line x1="564.5" y1="480.8" x2="564.5" y2="481.4" stroke="#111" stroke-width="1.4"/>
<line x1="561.3" y1="480.8" x2="567.7" y2="480.8" stroke="#111" stroke-width="1.4"/>
<line x1="550.5" y1="497.9" x2="550.5" y2="501.5" stroke="#000" stroke-width="1.1"/>
<text x="537.16" y="510.4" font-size="9" font-weight="bold" fill="#1a1a1a" textLength="26.71" lengthAdjust="spacingAndGlyphs">60min</text>
<rect x="578.05" y="384.55" width="10.9" height="113.35" fill="#fff" stroke="#111" stroke-width="1.5"/>
<line x1="583.5" y1="380.9" x2="583.5" y2="383.8" stroke="#111" stroke-width="1.4"/>
<line x1="580.3" y1="380.9" x2="586.7" y2="380.9" stroke="#111" stroke-width="1.4"/>
<rect x="592.35" y="430.45" width="10.9" height="67.45" fill="url(#hatch)" stroke="#111" stroke-width="1.5"/>
<line x1="597.8" y1="428" x2="597.8" y2="429.7" stroke="#111" stroke-width="1.4"/>
<line x1="594.6" y1="428" x2="601" y2="428" stroke="#111" stroke-width="1.4"/>
<rect x="606.65" y="482.75" width="10.9" height="15.15" fill="url(#stripe)" stroke="#111" stroke-width="1.5"/>
<line x1="612.1" y1="481.4" x2="612.1" y2="482" stroke="#111" stroke-width="1.4"/>
<line x1="608.9" y1="481.4" x2="615.3" y2="481.4" stroke="#111" stroke-width="1.4"/>
<line x1="597.5" y1="497.9" x2="597.5" y2="501.5" stroke="#000" stroke-width="1.1"/>
<text x="581.9" y="510.4" font-size="9" font-weight="bold" fill="#1a1a1a" textLength="33" lengthAdjust="spacingAndGlyphs">120min</text>
<rect x="625.65" y="349.25" width="10.9" height="148.65" fill="#fff" stroke="#111" stroke-width="1.5"/>
<line x1="631.1" y1="332.3" x2="631.1" y2="348.5" stroke="#111" stroke-width="1.4"/>
<line x1="627.9" y1="332.3" x2="634.3" y2="332.3" stroke="#111" stroke-width="1.4"/>
<rect x="639.95" y="432.25" width="10.9" height="65.65" fill="url(#hatch)" stroke="#111" stroke-width="1.5"/>
<line x1="645.4" y1="428" x2="645.4" y2="431.5" stroke="#111" stroke-width="1.4"/>
<line x1="642.2" y1="428" x2="648.6" y2="428" stroke="#111" stroke-width="1.4"/>
<rect x="654.25" y="472.75" width="10.9" height="25.15" fill="url(#stripe)" stroke="#111" stroke-width="1.5"/>
<line x1="659.7" y1="469.3" x2="659.7" y2="472" stroke="#111" stroke-width="1.4"/>
<line x1="656.5" y1="469.3" x2="662.9" y2="469.3" stroke="#111" stroke-width="1.4"/>
<line x1="645.5" y1="497.9" x2="645.5" y2="501.5" stroke="#000" stroke-width="1.1"/>
<text x="630.18" y="510.4" font-size="9" font-weight="bold" fill="#1a1a1a" textLength="31.69" lengthAdjust="spacingAndGlyphs">240min</text>
<line x1="383.6" y1="305.15" x2="383.6" y2="498.5" stroke="#000" stroke-width="1.3"/>
<line x1="383" y1="497.9" x2="670.3" y2="497.9" stroke="#000" stroke-width="1.3"/>
<line x1="380" y1="497.5" x2="383.6" y2="497.5" stroke="#000" stroke-width="1.1"/>
<text x="379.4" y="501" font-size="8.5" font-weight="bold" text-anchor="end" fill="#1a1a1a">0</text>
<line x1="380" y1="459.5" x2="383.6" y2="459.5" stroke="#000" stroke-width="1.1"/>
<text x="379.4" y="462.45" font-size="8.5" font-weight="bold" text-anchor="end" fill="#1a1a1a">5</text>
<line x1="380" y1="420.5" x2="383.6" y2="420.5" stroke="#000" stroke-width="1.1"/>
<text x="379.4" y="423.9" font-size="8.5" font-weight="bold" text-anchor="end" fill="#1a1a1a">10</text>
<line x1="380" y1="382.5" x2="383.6" y2="382.5" stroke="#000" stroke-width="1.1"/>
<text x="379.4" y="385.35" font-size="8.5" font-weight="bold" text-anchor="end" fill="#1a1a1a">15</text>
<line x1="380" y1="343.5" x2="383.6" y2="343.5" stroke="#000" stroke-width="1.1"/>
<text x="379.4" y="346.8" font-size="8.5" font-weight="bold" text-anchor="end" fill="#1a1a1a">20</text>
<line x1="380" y1="305.5" x2="383.6" y2="305.5" stroke="#000" stroke-width="1.1"/>
<text x="379.4" y="308.25" font-size="8.5" font-weight="bold" text-anchor="end" fill="#1a1a1a">25</text>
<text x="332.56" y="289.8" font-size="17" fill="#111">D</text>
<text x="0" y="0" font-size="10" font-weight="bold" fill="#1a1a1a" textLength="135.83" lengthAdjust="spacingAndGlyphs" transform="translate(362.8,470.27) rotate(-90)">Internalization percentage %</text>
<text x="489.84" y="524.6" font-size="9.9" font-weight="bold" fill="#1a1a1a" textLength="73.3" lengthAdjust="spacingAndGlyphs">Incubating time</text>
<text x="427.24" y="540.4" font-size="7.1" fill="#111" textLength="12.17" lengthAdjust="spacingAndGlyphs">188</text>
<text x="439.52" y="545" font-size="13" fill="#111" textLength="162.88" lengthAdjust="spacingAndGlyphs">Re-EC-RKRKRKKSRYIVLS</text>
<rect x="402.4" y="325.4" width="12.6" height="6.6" rx="0.8" fill="#fff" stroke="#222" stroke-width="1.2"/>
<text x="423.18" y="332.1" font-size="9.9" fill="#1a1a1a" textLength="117.3" lengthAdjust="spacingAndGlyphs">Transfected with VEGFR-1</text>
<rect x="402.4" y="339.4" width="12.6" height="6.6" rx="0.8" fill="url(#hatch)" stroke="#222" stroke-width="1.2"/>
<text x="423.25" y="346.1" font-size="9.9" fill="#1a1a1a" textLength="122.61" lengthAdjust="spacingAndGlyphs">transfected with empty virus</text>
<rect x="402.4" y="353.2" width="12.6" height="6.6" rx="0.8" fill="#b4b4b4" stroke="#222" stroke-width="1.2"/>
<rect x="403.1" y="356.4" width="11.2" height="1.1" fill="#fafafa"/>
<rect x="403.1" y="353.9" width="11.2" height="0.9" fill="#d0d0d0"/>
<text x="422.46" y="359.9" font-size="9.9" fill="#1a1a1a" textLength="40.8" lengthAdjust="spacingAndGlyphs">Inhibition</text>
<path d="M482.9,392.7 L504,392.7 L504,423.1" fill="none" stroke="#5a5a5a" stroke-width="1"/>
<text x="493.7" y="391.6" font-size="10.5" font-weight="bold" text-anchor="middle" fill="#111" style="stroke-width:0">***</text>
<path d="M529.2,376 L550.4,376 L550.4,406.1" fill="none" stroke="#5a5a5a" stroke-width="1"/>
<text x="540.8" y="374.3" font-size="10.5" font-weight="bold" text-anchor="middle" fill="#111" style="stroke-width:0">***</text>
<path d="M579.3,370.1 L600.6,370.1 L600.6,415.4" fill="none" stroke="#5a5a5a" stroke-width="1"/>
<text x="590.6" y="368.6" font-size="10.5" font-weight="bold" text-anchor="middle" fill="#111" style="stroke-width:0">***</text>
<path d="M626.5,323.2 L647.5,323.2 L647.5,370.1" fill="none" stroke="#5a5a5a" stroke-width="1"/>
<text x="636.4" y="323.1" font-size="10.5" font-weight="bold" text-anchor="middle" fill="#111" style="stroke-width:0">***</text>
<text x="469.6" y="487.4" font-size="10.5" font-weight="bold" text-anchor="middle" fill="#111" style="stroke-width:0">*</text>
<text x="516.4" y="485.1" font-size="10.5" font-weight="bold" text-anchor="middle" fill="#111" style="stroke-width:0">*</text>
<text x="564.5" y="480.8" font-size="10.5" font-weight="bold" text-anchor="middle" fill="#111" style="stroke-width:0">*</text>
<text x="612.7" y="481.3" font-size="10.5" font-weight="bold" text-anchor="middle" fill="#111" style="stroke-width:0">*</text>
<text x="659.9" y="470.6" font-size="10.5" font-weight="bold" text-anchor="middle" fill="#111" style="stroke-width:0">*</text>
<g>
<g clip-path="url(#cE)">
<rect x="69.5" y="640.6" width="194.9" height="46.8" fill="#fdfdfd"/>
<rect x="212" y="641" width="50" height="46" fill="#f6f6f6"/>
<path d="M80,642 L131,642 L133,687 L78,687 Z" fill="#e4e4e4" filter="url(#b2)"/>
<rect x="74" y="676" width="30" height="11" fill="#dadada" filter="url(#b2)"/>
<rect x="215.5" y="641.5" width="43" height="45.5" fill="#dcdcdc" filter="url(#b15)"/>
<ellipse cx="237" cy="670" rx="17" ry="7" fill="#e2e2e2" filter="url(#b3)"/>
<rect x="216" y="655.5" width="42" height="6" fill="#b6b6b6" filter="url(#b2)"/>
<rect x="216" y="679" width="42" height="8" fill="#c4c4c4" filter="url(#b2)"/>
<rect x="216" y="650" width="4" height="36" fill="#c8c8c8" filter="url(#b2)"/>
<rect x="253" y="650" width="4" height="36" fill="#cacaca" filter="url(#b2)"/>
<circle cx="228" cy="649" r="1.2" fill="#b0b0b0"/>
<circle cx="238.5" cy="659.5" r="1.4" fill="#909090"/>
<circle cx="246" cy="659.5" r="1.2" fill="#999"/>
<path d="M81.2,669.5 C81.2,664.5 84,663.8 89,663.6 L105,663.2 C110,662 116,661 122,661 C129,661 132.6,662.5 132.6,667 C132.6,672 129,673 122,673 L105,673.8 C98,675 92,675.8 88,675.8 C84,675.8 81.2,674 81.2,669.5 Z" fill="#444" filter="url(#b15)"/>
<path d="M81.2,669.5 C81.2,664.5 84,663.8 89,663.6 L105,663.2 C110,662 116,661 122,661 C129,661 132.6,662.5 132.6,667 C132.6,672 129,673 122,673 L105,673.8 C98,675 92,675.8 88,675.8 C84,675.8 81.2,674 81.2,669.5 Z" fill="#000" filter="url(#b05)"/>
<circle cx="92.2" cy="659.4" r="1.3" fill="#555"/>
<circle cx="93" cy="686.4" r="1.4" fill="#222"/>
<circle cx="211.6" cy="678.4" r="1.5" fill="#111"/>
<circle cx="159" cy="663" r="0.6" fill="#bbb"/><circle cx="178" cy="659" r="0.6" fill="#bbb"/><circle cx="192" cy="670" r="0.8" fill="#aaa"/><circle cx="205" cy="685" r="0.8" fill="#ccc"/><circle cx="210" cy="643" r="0.8" fill="#aaa"/>
</g>
<rect x="69.5" y="640.6" width="194.9" height="46.8" fill="none" stroke="#333" stroke-width="1.2"/>
</g>
<text x="7.86" y="604.6" font-size="17" fill="#111">E</text>
<text x="88.22" y="624.6" font-size="13.8" fill="#111" textLength="30.88" lengthAdjust="spacingAndGlyphs">Input</text>
<text x="158.85" y="624" font-size="13.8" fill="#111" textLength="23.65" lengthAdjust="spacingAndGlyphs">IgG</text>
<text x="212.31" y="624" font-size="13.8" fill="#111" textLength="55.61" lengthAdjust="spacingAndGlyphs">anti-GST</text>
<text x="125.74" y="711.2" font-size="13.8" fill="#111" textLength="88.02" lengthAdjust="spacingAndGlyphs">WB: VEGFR-1</text>
<g clip-path="url(#cF)">
<rect x="391.1" y="637.6" width="194.5" height="46.6" fill="#f5f5f5"/>
<rect x="392.5" y="639" width="191.7" height="43.8" fill="none" stroke="#fafafa" stroke-width="1"/>
<rect x="407" y="648" width="50" height="12" fill="#ebebeb" filter="url(#b2)"/>
<path d="M410,663.8 C410,661.2 413,661.4 418,661.6 L450,661 C454,660.8 455.6,661.6 455.6,663.4 C455.6,665.4 453,665.8 450,665.7 L418,666.4 C413,666.7 410,666.4 410,663.8 Z" fill="#555" filter="url(#b07)"/>
<ellipse cx="416" cy="664.3" rx="5.5" ry="2.3" fill="#2c2c2c" filter="url(#b07)"/>
<ellipse cx="451" cy="663.3" rx="4.5" ry="2.1" fill="#3c3c3c" filter="url(#b07)"/>
<rect x="535" y="651" width="36" height="7" fill="#c6c6c6" filter="url(#b15)"/>
<ellipse cx="538" cy="654.3" rx="4.5" ry="3.5" fill="#bababa" filter="url(#b15)"/>
<ellipse cx="567.5" cy="654.3" rx="4.5" ry="3.5" fill="#bdbdbd" filter="url(#b15)"/>
</g>
<rect x="391.1" y="637.6" width="194.5" height="46.6" fill="none" stroke="#3a3a3a" stroke-width="1.3"/>
<text x="333.86" y="604.6" font-size="17" fill="#111">F</text>
<text x="412.17" y="624.3" font-size="13.8" fill="#111" textLength="32.14" lengthAdjust="spacingAndGlyphs">Input</text>
<text x="481.01" y="622.2" font-size="13.8" fill="#111" textLength="24.32" lengthAdjust="spacingAndGlyphs">IgG</text>
<text x="525.22" y="622.2" font-size="13.8" fill="#111" textLength="86.36" lengthAdjust="spacingAndGlyphs">anti-VEGFR-1</text>
<text x="462.04" y="710" font-size="13.8" fill="#111" textLength="56.57" lengthAdjust="spacingAndGlyphs">WB: GST</text>
<g clip-path="url(#cG)">
<rect x="68.5" y="778" width="194.4" height="47.2" fill="#efefef"/>
<rect x="70" y="779" width="58.5" height="45.2" fill="#cecece" filter="url(#b1)"/>
<rect x="70" y="779" width="5" height="45" fill="#dedede" filter="url(#b1)"/>
<rect x="150.3" y="779" width="1.4" height="45" fill="#d0d0d0"/>
<rect x="212.5" y="780" width="43" height="43" fill="#e7e7e7" filter="url(#b15)"/>
<rect x="213" y="796" width="42" height="10" fill="#dfdfdf" filter="url(#b3)"/>
<path d="M75,802.7 C75,798.8 78,798 82,798 C90,798 96,799.6 102,799.6 C110,799.6 116,798.6 122,798.6 C127,798.6 128.2,800.5 128.2,803 C128.2,806.3 126,807.6 121,807.6 C115,807.6 110,806.4 102,806.4 C96,806.4 90,807.4 82,807.4 C78,807.4 75,806.5 75,802.7 Z" fill="#000" filter="url(#b05)"/>
<circle cx="171.2" cy="783.6" r="1.3" fill="#666"/>
<rect x="69.5" y="779" width="192.4" height="45.2" fill="none" stroke="#f6f6f6" stroke-width="0.8"/>
</g>
<rect x="68.5" y="778" width="194.4" height="47.2" fill="none" stroke="#2a2a2a" stroke-width="1.2"/>
<text x="7.4" y="750.6" font-size="17" fill="#111">G</text>
<text x="84.99" y="760.6" font-size="13.8" fill="#111" textLength="31.51" lengthAdjust="spacingAndGlyphs">Input</text>
<text x="157.43" y="758.5" font-size="13.8" fill="#111" textLength="23.87" lengthAdjust="spacingAndGlyphs">IgG</text>
<text x="207.31" y="758.5" font-size="13.8" fill="#111" textLength="55.51" lengthAdjust="spacingAndGlyphs">anti-GST</text>
<text x="123.74" y="851.3" font-size="13.8" fill="#111" textLength="88.02" lengthAdjust="spacingAndGlyphs">WB: VEGFR-1</text>
<g clip-path="url(#cH)">
<rect x="392.2" y="777.3" width="194.6" height="47" fill="#ececec"/>
<rect x="393" y="778" width="12" height="45.5" fill="#f4f4f4" filter="url(#b2)"/>
<rect x="408" y="786" width="50" height="11" fill="#e4e4e4" filter="url(#b3)"/>
<path d="M411,803.8 C411,801.6 415,801.4 420,801.4 L445,801 C450,800.5 453.4,800.8 453.4,804.2 C453.4,807.8 450,808 446,807.2 L420,806.6 C415,806.6 411,806.2 411,803.8 Z" fill="#1e1e1e" filter="url(#b07)"/>
<ellipse cx="448" cy="804.3" rx="5.5" ry="3.2" fill="#000" filter="url(#b07)"/>
<rect x="530" y="792" width="41" height="8.4" fill="#909090" filter="url(#b18)"/>
<ellipse cx="535" cy="796.3" rx="5.5" ry="3.8" fill="#787878" filter="url(#b18)"/>
<ellipse cx="565" cy="796.1" rx="6.5" ry="4.2" fill="#505050" filter="url(#b18)"/>
</g>
<rect x="392.2" y="777.3" width="194.6" height="47" fill="none" stroke="#2a2a2a" stroke-width="1.2"/>
<text x="331.16" y="750.2" font-size="17" fill="#111">H</text>
<text x="411.59" y="760" font-size="13.8" fill="#111" textLength="31.62" lengthAdjust="spacingAndGlyphs">Input</text>
<text x="477.41" y="760.9" font-size="13.8" fill="#111" textLength="22.53" lengthAdjust="spacingAndGlyphs">IgG</text>
<text x="518.42" y="760.9" font-size="13.8" fill="#111" textLength="85.44" lengthAdjust="spacingAndGlyphs">anti-VEGFR-1</text>
<text x="456.84" y="851.3" font-size="13.8" fill="#111" textLength="56.57" lengthAdjust="spacingAndGlyphs">WB: GST</text>
</svg></body></html>
